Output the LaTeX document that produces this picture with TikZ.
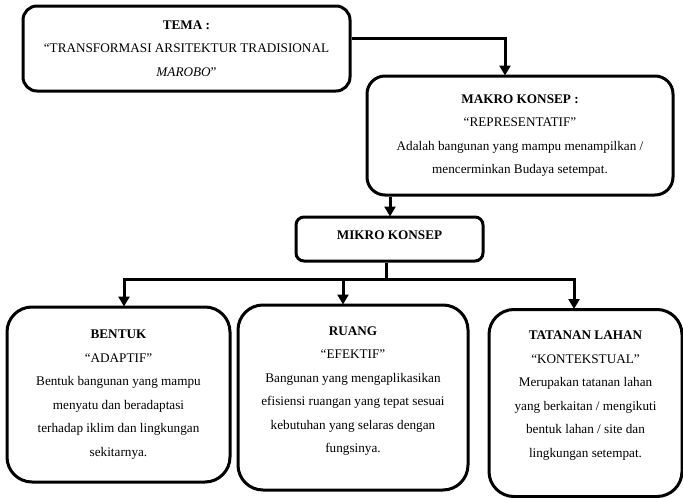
\documentclass[tikz,border=0pt]{standalone}
\usepackage{fontspec}
\setmainfont{Liberation Serif}
\usetikzlibrary{arrows.meta}
\begin{document}
\begin{tikzpicture}[x=1pt,y=-1pt,
  box/.style={draw=black, line width=3pt, align=center, inner sep=0pt,
    font=\fontsize{13.2}{23.5}\selectfont},
  conn/.style={line width=3pt},
  arr/.style={line width=3pt, -{Triangle[width=11pt,length=10pt]}, shorten >=-1pt}]
\useasboundingbox (0,0) rectangle (683,498);
\fill[white] (0,0) rectangle (683,498);

\node[box, rounded corners=14pt, minimum width=327pt, minimum height=85pt] (tema) at (186.5,48.5)
  {\textbf{TEMA :}\\ “TRANSFORMASI ARSITEKTUR TRADISIONAL\\ \textit{MAROBO}”};

\node[box, rounded corners=18pt, minimum width=306pt, minimum height=119pt] (makro) at (520,135.5)
  {\textbf{MAKRO KONSEP :}\\ “REPRESENTATIF”\\ Adalah bangunan yang mampu menampilkan /\\ mencerminkan Budaya setempat.};

\node[box, rounded corners=8pt, minimum width=187pt, minimum height=44pt] (mikro) at (389.5,239)
  {\textbf{MIKRO KONSEP}\\[-16pt]};

\node[box, rounded corners=25pt, minimum width=223pt, minimum height=175pt] (bentuk) at (118.5,394.5)
  {\textbf{BENTUK}\\ “ADAPTIF”\\ Bentuk bangunan yang mampu\\ menyatu dan beradaptasi\\ terhadap iklim dan lingkungan\\ sekitarnya.};

\node[box, rounded corners=25pt, minimum width=230pt, minimum height=185pt] (ruang) at (353,397.5)
  {\textbf{RUANG}\\ “EFEKTIF”\\ Bangunan yang mengaplikasikan\\ efisiensi ruangan yang tepat sesuai\\ kebutuhan yang selaras dengan\\ fungsinya.\\[-7.5pt]};

\node[box, rounded corners=25pt, minimum width=193pt, minimum height=187pt] (tatanan) at (585.5,403)
  {\textbf{TATANAN LAHAN}\\ “KONTEKSTUAL”\\ Merupakan tatanan lahan\\ yang berkaitan / mengikuti\\ bentuk lahan / site dan\\ lingkungan setempat.\\[-5.5pt]};

% connectors
\draw[arr] ([yshift=10.5pt]tema.east) -| ([xshift=-15pt]makro.north);
\draw[arr] ([xshift=-130pt]makro.south) -- ([xshift=-130pt]makro.south |- mikro.north);

\coordinate (bus) at (386,279);
\coordinate (jb) at (124,279);
\coordinate (jr) at (343,279);
\coordinate (jt) at (574,279);
\draw[conn] (mikro.south -| bus) -- (bus);
\draw[conn, line cap=rect] (jb) -- (jt);
\draw[arr] (jb) -- (jb |- bentuk.north);
\draw[arr] (jr) -- (jr |- ruang.north);
\draw[arr] (jt) -- (jt |- tatanan.north);
\end{tikzpicture}
\end{document}
